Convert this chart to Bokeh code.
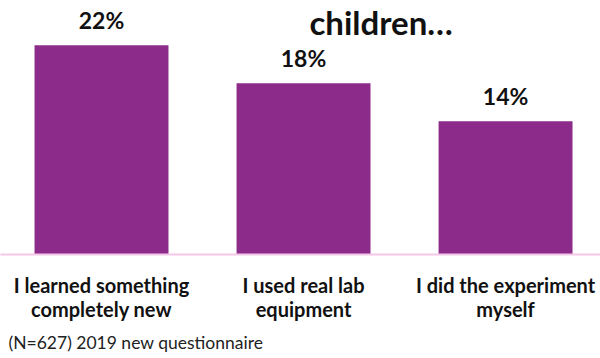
from bokeh.plotting import figure
from bokeh.models import Range1d, FixedTicker, Label, ColumnDataSource, Title
from bokeh.core.properties import value
from bokeh.embed import file_html
from bokeh.resources import INLINE

# ---- data ----
categories = ["I learned something\ncompletely new",
              "I used real lab\nequipment",
              "I did the experiment\nmyself"]
percent_values = [22, 18, 14]
value_labels = ["22%", "18%", "14%"]
title_text = "children…"
footnote_text = "(N=627) 2019 new questionnaire"

positions = list(range(len(categories)))

BAR = "#8C2B8A"
FONT = "Lato"
Y_END = 26.71

p = figure(width=600, height=358, output_backend="svg", toolbar_location=None,
           x_range=Range1d(-0.5, 2.47), y_range=Range1d(0, Y_END),
           min_border_left=0, min_border_right=0, min_border_top=0,
           min_border_bottom=104)
p.outline_line_color = None
p.background_fill_color = "white"
p.border_fill_color = "white"
p.grid.visible = False
p.yaxis.visible = False

src = ColumnDataSource(dict(x=positions, top=percent_values, lab=value_labels))
p.vbar(x="x", top="top", width=0.663, source=src, fill_color=BAR, line_color=None)
p.text(x="x", y="top", text="lab", source=src, text_align="center",
       text_baseline="alphabetic", y_offset=-25, text_font=value(FONT),
       text_font_style="bold", text_font_size="23px", text_color="#111111")

ax = p.xaxis[0]
ax.ticker = FixedTicker(ticks=positions)
ax.major_label_overrides = {i: c for i, c in zip(positions, categories)}
ax.major_tick_line_color = None
ax.minor_tick_line_color = None
ax.major_tick_out = 0
ax.axis_line_color = "#F3C8E8"
ax.axis_line_width = 2
ax.major_label_standoff = 18
ax.major_label_text_font = FONT
ax.major_label_text_font_style = "bold"
ax.major_label_text_font_size = "20px"
ax.major_label_text_color = "#111111"
ax.major_label_text_line_height = 1.0

p.add_layout(Label(x=1.384, y=Y_END, y_offset=-1, text=title_text, text_align="center",
                   text_baseline="top", text_font=FONT, text_font_style="bold",
                   text_font_size="33px", text_color="#111111"))

foot = Title(text=footnote_text, align="left", offset=8, standoff=12,
             text_font=FONT, text_font_style="normal", text_font_size="17.5px",
             text_color="#222222")
p.add_layout(foot, "below")

open("out.html", "w").write(file_html(p, INLINE))
